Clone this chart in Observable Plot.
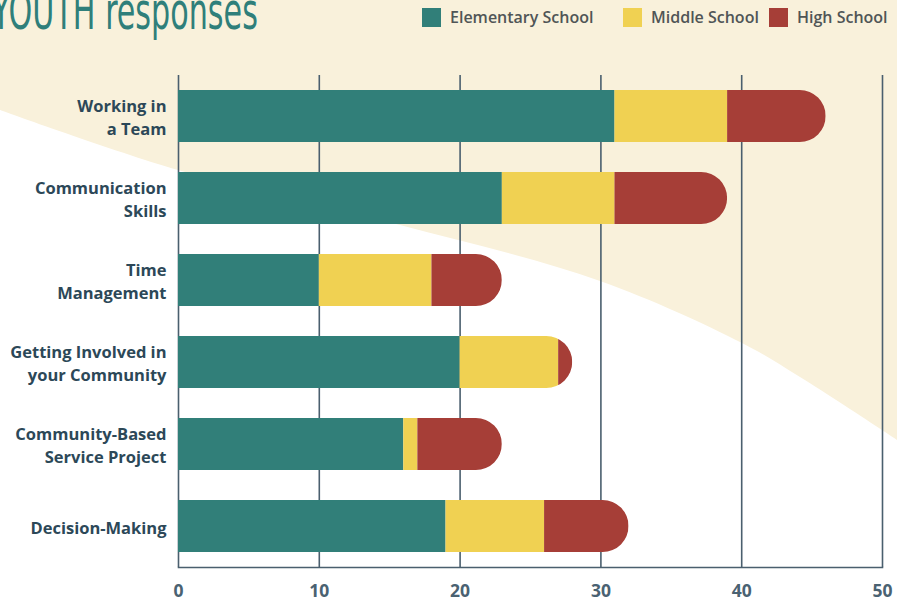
<!DOCTYPE html>
<html>
<head>
<meta charset="utf-8">
<script src="https://cdn.jsdelivr.net/npm/d3@7"></script>
<script src="https://cdn.jsdelivr.net/npm/@observablehq/plot@0.6"></script>
<style>
  html, body { margin: 0; padding: 0; background: #ffffff; overflow: hidden; }
  #wrap { position: relative; width: 897px; height: 605px; overflow: hidden; }
  #bg { position: absolute; left: 0; top: 0; }
  #chart { position: absolute; left: 0; top: 0; }
  #title { position: absolute; left: -8px; top: -19px; font-family: "Liberation Sans Narrow", "DejaVu Sans Condensed", sans-serif;
           font-size: 52px; color: #2f7f7a; transform: scaleX(0.645); transform-origin: left top; white-space: nowrap; }
  #legend { position: absolute; top: 4px; left: 0; width: 897px; height: 26px; white-space: nowrap; font-family: "Open Sans", sans-serif; font-weight: 600; font-size: 16px; color: #505556; }
  .item { position: absolute; top: 0; display: flex; align-items: center; height: 26px; }
  .sw { width: 19px; height: 19px; margin-right: 9px; flex: none; }
</style>
</head>
<body>
<div id="wrap">
  <svg id="bg" width="897" height="605"></svg>
  <div id="chart"></div>
  <div id="title">YOUTH responses</div>
  <div id="legend"></div>
</div>
<script>
const categories = ["Working in a Team", "Communication Skills", "Time Management", "Getting Involved in your Community", "Community-Based Service Project", "Decision-Making"];
const categoryLabels = ["Working in\na Team", "Communication\nSkills", "Time\nManagement", "Getting Involved in\nyour Community", "Community-Based\nService Project", "Decision-Making"];
const series = ["Elementary School", "Middle School", "High School"];
const elementary = [31, 23, 10, 20, 16, 19];
const middle = [8, 8, 8, 7, 1, 7];
const high = [7, 8, 5, 1, 6, 6];
const colors = ["#317f79", "#f0d152", "#a63e37"];
const xTicks = [0, 10, 20, 30, 40, 50];
const legendLeft = [422, 623, 769];

// decorative background shape
const bgPts = [[0,110],[178,170],[400,225],[600,281],[742,343],[800,377],[882,430],[897,440]];
const curveRev = d3.line().curve(d3.curveCatmullRom)(bgPts.slice().reverse());
d3.select("#bg").append("path")
  .attr("d", curveRev + " L0,0 L897,0 Z")
  .attr("fill", "#f9f1db");

// legend
const leg = d3.select("#legend");
series.forEach((s, i) => {
  const it = leg.append("div").attr("class", "item").style("left", legendLeft[i] + "px");
  it.append("div").attr("class", "sw").style("background", colors[i]);
  it.append("span").text(s);
});

const data = [];
categories.forEach((c, i) => {
  data.push({cat: c, school: series[0], value: elementary[i]});
  data.push({cat: c, school: series[1], value: middle[i]});
  data.push({cat: c, school: series[2], value: high[i]});
});
const totals = categories.map((c, i) => elementary[i] + middle[i] + high[i]);
const labelOf = new Map(categories.map((c, i) => [c, categoryLabels[i]]));

const plot = Plot.plot({
  width: 897,
  height: 605,
  marginLeft: 178,
  marginRight: 15,
  marginTop: 75,
  marginBottom: 38,
  style: {background: "transparent", fontFamily: "'Open Sans', sans-serif"},
  x: {domain: [0, 50], ticks: xTicks},
  y: {domain: categories, paddingInner: 0.366, paddingOuter: 0.183},
  color: {domain: series, range: colors},
  marks: [
    Plot.gridX(xTicks, {stroke: "#4a5f6e", strokeOpacity: 1, strokeWidth: 1.6}),
    Plot.frame({anchor: "bottom", stroke: "#4a5f6e", strokeWidth: 1.6}),
    Plot.barX(data, {x: "value", y: "cat", fill: "school", order: series}),
    Plot.axisX(xTicks, {tickSize: 0, tickPadding: 17, fontSize: 17.5, fontWeight: "bold", fill: "#4a6272", label: null}),
    Plot.axisY({tickSize: 0, tickPadding: 12, fontSize: 16.5, fontWeight: "bold", fill: "#2c4858", label: null, lineHeight: 1.38,
                tickFormat: d => labelOf.get(d)})
  ]
});
document.getElementById("chart").appendChild(plot);

// rounded right ends: clip stacked bars to a pill per category (positions from Plot's scales)
const xs = plot.scale("x"), ys = plot.scale("y");
const svgNS = "http://www.w3.org/2000/svg";
const defs = document.createElementNS(svgNS, "defs");
const cp = document.createElementNS(svgNS, "clipPath");
cp.setAttribute("id", "pill-clip");
categories.forEach((c, i) => {
  const r = document.createElementNS(svgNS, "rect");
  const x0 = xs.apply(0), x1 = xs.apply(totals[i]);
  const y0 = ys.apply(c), bw = ys.bandwidth;
  r.setAttribute("x", x0 - bw);
  r.setAttribute("y", y0);
  r.setAttribute("width", x1 - x0 + bw);
  r.setAttribute("height", bw);
  r.setAttribute("rx", bw / 2);
  r.setAttribute("ry", bw / 2);
  cp.appendChild(r);
});
defs.appendChild(cp);
plot.insertBefore(defs, plot.firstChild);
const barG = plot.querySelector('g[aria-label="bar"]');
if (barG) barG.setAttribute("clip-path", "url(#pill-clip)");
</script>
</body>
</html>
